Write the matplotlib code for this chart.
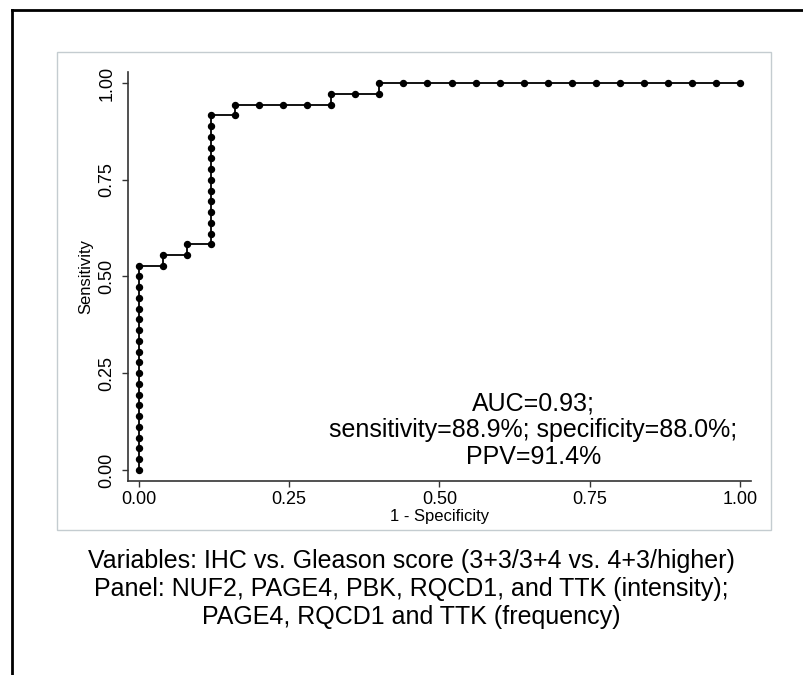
import matplotlib
matplotlib.use("Agg")
import matplotlib.pyplot as plt
from matplotlib.patches import Rectangle
from matplotlib.lines import Line2D

plt.rcParams['font.family'] = ['Liberation Sans', 'DejaVu Sans']

# ROC points (1 - specificity, sensitivity)
fpr = [0.00, 0.00, 0.00, 0.00, 0.00, 0.00, 0.00, 0.00, 0.00, 0.00,
       0.00, 0.00, 0.00, 0.00, 0.00, 0.00, 0.00, 0.00, 0.00, 0.00,
       0.04, 0.04, 0.08, 0.08,
       0.12, 0.12, 0.12, 0.12, 0.12, 0.12, 0.12, 0.12, 0.12, 0.12, 0.12, 0.12, 0.12,
       0.16, 0.16, 0.20, 0.24, 0.28, 0.32, 0.32, 0.36, 0.40, 0.40,
       0.44, 0.48, 0.52, 0.56, 0.60, 0.64, 0.68, 0.72, 0.76, 0.80,
       0.84, 0.88, 0.92, 0.96, 1.00]
sens = [0.000, 0.028, 0.056, 0.083, 0.111, 0.139, 0.167, 0.194, 0.222, 0.250,
        0.278, 0.306, 0.333, 0.361, 0.389, 0.417, 0.444, 0.472, 0.500, 0.528,
        0.528, 0.556, 0.556, 0.583,
        0.583, 0.611, 0.639, 0.667, 0.694, 0.722, 0.750, 0.778, 0.806, 0.833, 0.861, 0.889, 0.917,
        0.917, 0.944, 0.944, 0.944, 0.944, 0.944, 0.972, 0.972, 0.972, 1.000,
        1.000, 1.000, 1.000, 1.000, 1.000, 1.000, 1.000, 1.000, 1.000, 1.000,
        1.000, 1.000, 1.000, 1.000, 1.000]

ticks = [0.00, 0.25, 0.50, 0.75, 1.00]
tick_labels = ["0.00", "0.25", "0.50", "0.75", "1.00"]

stats_text = "AUC=0.93;\nsensitivity=88.9%; specificity=88.0%;\nPPV=91.4%"
caption = ("Variables: IHC vs. Gleason score (3+3/3+4 vs. 4+3/higher)\n"
           "Panel: NUF2, PAGE4, PBK, RQCD1, and TTK (intensity);\n"
           "PAGE4, RQCD1 and TTK (frequency)")

fig = plt.figure(figsize=(8.04, 6.75), dpi=100)

# outer black frame (cut off at right and bottom)
fig.add_artist(Line2D([12 / 804, 12 / 804], [0, 1 - 10 / 675], transform=fig.transFigure,
                      color='black', lw=2))
fig.add_artist(Line2D([12 / 804, 1], [1 - 10 / 675, 1 - 10 / 675], transform=fig.transFigure,
                      color='black', lw=2))
# light graph region border
fig.add_artist(Rectangle((57 / 804, 1 - 530 / 675), (771 - 57) / 804, (530 - 52) / 675,
                         transform=fig.transFigure, fill=False, edgecolor='#c4ccd0', lw=1))

ax = fig.add_axes([128 / 804, 1 - 481 / 675, 623 / 804, 409 / 675])
ax.plot(fpr, sens, color='black', lw=1.3, marker='o', markersize=4.3, clip_on=False)

ax.set_xlim(-0.0183, 1.0183)
ax.set_ylim(-0.0284, 1.0284)
ax.set_xticks(ticks)
ax.set_xticklabels(tick_labels)
ax.set_yticks(ticks)
ax.set_yticklabels(tick_labels, rotation=90, va='center')
ax.tick_params(direction='out', length=4, width=1, labelsize=13, pad=3, color='#333333')
ax.tick_params(axis='y', pad=5)
for s in ['top', 'right']:
    ax.spines[s].set_visible(False)
for s in ['left', 'bottom']:
    ax.spines[s].set_color('#333333')
    ax.spines[s].set_linewidth(1.2)

ax.set_xlabel("1 - Specificity", fontsize=12)
ax.xaxis.set_label_coords(0.5, -0.088)
ax.xaxis.label.set_va('center')
ax.set_ylabel("Sensitivity", fontsize=12)
ax.yaxis.set_label_coords(-0.0674, 0.5)
ax.yaxis.label.set_va('center')

ax.text(0.656, 0.103, stats_text, fontsize=18, ha='center', va='center',
        multialignment='center', linespacing=1.14)

fig.text(411 / 804, 1 - 589 / 675, caption, fontsize=18, ha='center', va='center',
         multialignment='center', linespacing=1.2)

fig.savefig("out.png", dpi=100)
